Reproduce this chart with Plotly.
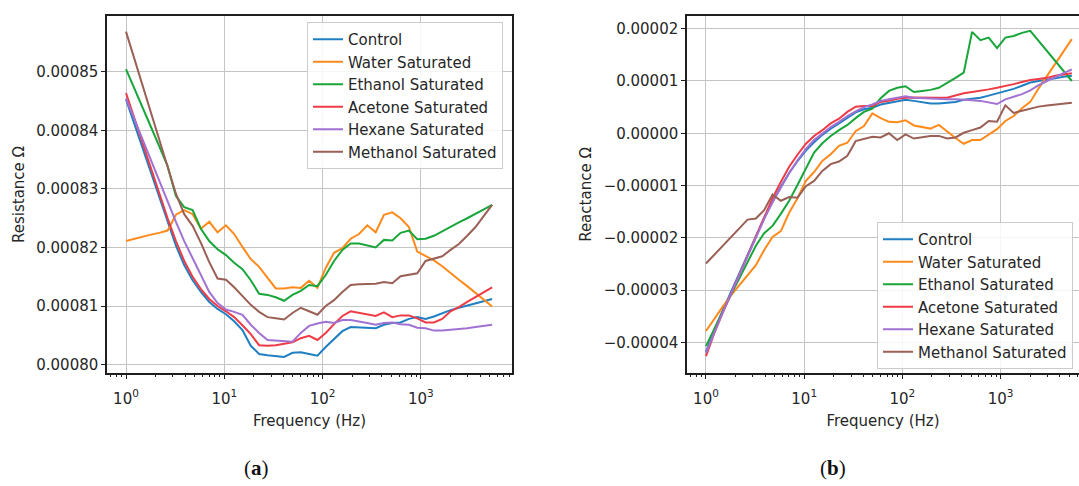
import plotly.graph_objects as go

# ---------------- data ----------------
FREQ_HZ = [1.0, 1.215, 1.476, 1.795, 2.18, 2.65, 3.22, 3.91, 4.76,
           5.78, 7.03, 8.54, 10.4, 12.6, 15.3, 18.6, 22.6, 27.5,
           33.4, 40.6, 49.4, 60.0, 72.9, 88.6, 107.6, 130.8, 159,
           193, 235, 285, 347, 421, 512, 622, 756, 919,
           1117, 1357, 1650, 2004, 2436, 2960, 3597, 4372, 5313]

SERIES = ["Control", "Water Saturated", "Ethanol Saturated",
          "Acetone Saturated", "Hexane Saturated", "Methanol Saturated"]

# Resistance values in units of 1e-5 ohm
R_CONTROL = [84.53, 84.11, 83.70, 83.27, 82.85, 82.42, 82.03, 81.70, 81.44,
             81.24, 81.07, 80.95, 80.86, 80.74, 80.59, 80.32, 80.18, 80.16,
             80.15, 80.13, 80.20, 80.21, 80.18, 80.15, 80.30, 80.44, 80.57,
             80.64, 80.63, 80.62, 80.62, 80.68, 80.71, 80.72, 80.78, 80.81,
             80.78, 80.82, 80.88, 80.93, 80.97, 81.01, 81.04, 81.08, 81.12]
R_WATER = [82.11, 82.15, 82.18, 82.22, 82.25, 82.29, 82.56, 82.64, 82.57,
           82.32, 82.44, 82.26, 82.38, 82.23, 82.01, 81.80, 81.67, 81.48,
           81.30, 81.30, 81.32, 81.31, 81.43, 81.31, 81.65, 81.91, 81.99,
           82.15, 82.23, 82.38, 82.26, 82.56, 82.60, 82.50, 82.35, 81.93,
           81.85, 81.78, 81.68, 81.56, 81.45, 81.34, 81.22, 81.10, 80.99]
R_ETHANOL = [85.05, 84.73, 84.39, 84.06, 83.73, 83.39, 82.88, 82.69, 82.64,
             82.32, 82.11, 81.97, 81.87, 81.74, 81.63, 81.44, 81.21, 81.19,
             81.15, 81.09, 81.19, 81.26, 81.36, 81.34, 81.53, 81.77, 81.96,
             82.07, 82.07, 82.03, 82.00, 82.13, 82.12, 82.25, 82.29, 82.14,
             82.15, 82.20, 82.28, 82.36, 82.43, 82.50, 82.57, 82.65, 82.73]
R_ACETONE = [84.64, 84.21, 83.78, 83.36, 82.93, 82.50, 82.11, 81.77, 81.50,
             81.29, 81.12, 81.00, 80.91, 80.81, 80.67, 80.52, 80.33, 80.32,
             80.33, 80.35, 80.38, 80.45, 80.49, 80.42, 80.54, 80.69, 80.83,
             80.91, 80.88, 80.85, 80.83, 80.89, 80.81, 80.84, 80.84, 80.79,
             80.72, 80.72, 80.78, 80.91, 80.98, 81.07, 81.15, 81.24, 81.32]
R_HEXANE = [84.55, 84.20, 83.84, 83.49, 83.12, 82.78, 82.44, 82.11, 81.82,
            81.53, 81.24, 81.05, 80.94, 80.90, 80.85, 80.68, 80.54, 80.42,
            80.41, 80.40, 80.39, 80.54, 80.66, 80.70, 80.73, 80.71, 80.76,
            80.76, 80.74, 80.71, 80.68, 80.71, 80.72, 80.69, 80.68, 80.63,
            80.62, 80.58, 80.58, 80.59, 80.61, 80.62, 80.64, 80.66, 80.68]
R_METHANOL = [85.69, 85.23, 84.77, 84.30, 83.84, 83.38, 82.92, 82.57, 82.37,
              82.08, 81.75, 81.47, 81.45, 81.32, 81.17, 81.02, 80.90, 80.81,
              80.79, 80.77, 80.88, 80.97, 80.91, 80.85, 81.00, 81.10, 81.24,
              81.36, 81.37, 81.37, 81.38, 81.41, 81.39, 81.51, 81.53, 81.56,
              81.77, 81.81, 81.85, 81.96, 82.06, 82.20, 82.35, 82.54, 82.73]

# Reactance values in units of 1e-5 ohm
X_CONTROL = [-4.18, -3.76, -3.39, -3.03, -2.67, -2.31, -1.96, -1.62, -1.31,
             -1.02, -0.76, -0.53, -0.33, -0.17, -0.03, 0.09, 0.19, 0.30,
             0.40, 0.46, 0.49, 0.55, 0.58, 0.62, 0.64, 0.62, 0.60,
             0.57, 0.57, 0.585, 0.60, 0.64, 0.66, 0.68, 0.72, 0.76,
             0.80, 0.85, 0.91, 0.97, 1.00, 1.02, 1.05, 1.08, 1.10]
X_WATER = [-3.78, -3.54, -3.32, -3.10, -2.90, -2.71, -2.52, -2.23, -1.98,
           -1.87, -1.52, -1.24, -0.91, -0.74, -0.53, -0.40, -0.24, -0.18,
           0.04, 0.14, 0.38, 0.29, 0.22, 0.21, 0.25, 0.15, 0.12,
           0.09, 0.16, 0.03, -0.09, -0.20, -0.13, -0.13, -0.03, 0.08,
           0.235, 0.33, 0.48, 0.60, 0.86, 1.10, 1.32, 1.56, 1.80]
X_ETHANOL = [-4.07, -3.73, -3.41, -3.09, -2.77, -2.46, -2.15, -1.91, -1.77,
             -1.54, -1.29, -0.99, -0.68, -0.37, -0.19, -0.05, 0.06, 0.16,
             0.29, 0.41, 0.47, 0.67, 0.81, 0.87, 0.90, 0.79, 0.81,
             0.83, 0.87, 0.96, 1.06, 1.16, 1.94, 1.78, 1.83, 1.63,
             1.83, 1.86, 1.92, 1.96, 1.77, 1.57, 1.38, 1.19, 1.00]
X_ACETONE = [-4.26, -3.82, -3.44, -3.07, -2.70, -2.33, -1.96, -1.58, -1.24,
             -0.93, -0.64, -0.41, -0.20, -0.05, 0.06, 0.19, 0.28, 0.41,
             0.51, 0.52, 0.52, 0.60, 0.62, 0.66, 0.68, 0.685, 0.68,
             0.68, 0.68, 0.68, 0.73, 0.765, 0.79, 0.81, 0.84, 0.87,
             0.90, 0.94, 0.98, 1.02, 1.04, 1.06, 1.10, 1.12, 1.15]
X_HEXANE = [-4.20, -3.80, -3.43, -3.07, -2.71, -2.35, -1.99, -1.64, -1.32,
            -1.03, -0.76, -0.52, -0.30, -0.13, 0.00, 0.12, 0.22, 0.33,
            0.42, 0.50, 0.55, 0.62, 0.65, 0.68, 0.71, 0.68, 0.67,
            0.66, 0.65, 0.65, 0.65, 0.645, 0.63, 0.62, 0.59, 0.56,
            0.65, 0.70, 0.75, 0.82, 0.92, 1.00, 1.08, 1.15, 1.22]
X_METHANOL = [-2.49, -2.32, -2.15, -1.98, -1.82, -1.65, -1.63, -1.47, -1.17,
              -1.29, -1.22, -1.23, -1.01, -0.91, -0.72, -0.59, -0.54, -0.43,
              -0.15, -0.11, -0.065, -0.08, 0.00, -0.13, -0.02, -0.10, -0.07,
              -0.05, -0.05, -0.10, -0.08, 0.01, 0.06, 0.11, 0.235, 0.22,
              0.535, 0.39, 0.43, 0.47, 0.51, 0.53, 0.55, 0.57, 0.585]

RESISTANCE = [R_CONTROL, R_WATER, R_ETHANOL, R_ACETONE, R_HEXANE, R_METHANOL]
REACTANCE = [X_CONTROL, X_WATER, X_ETHANOL, X_ACETONE, X_HEXANE, X_METHANOL]

R_TICKS = [0.00080, 0.00081, 0.00082, 0.00083, 0.00084, 0.00085]
X_TICKS = [-0.00004, -0.00003, -0.00002, -0.00001, 0.0, 0.00001, 0.00002]
DECADES = [1, 10, 100, 1000]
DECADE_LABELS = ["10<sup>0</sup>", "10<sup>1</sup>", "10<sup>2</sup>", "10<sup>3</sup>"]

COLORS = ["#1f7fc2", "#ff8a1c", "#18a63a", "#ef3b46", "#a272d2", "#9a5f55"]
SCALE = 1e-5

# ---------------- figure ----------------
fig = go.Figure()
for name, color, vals in zip(SERIES, COLORS, RESISTANCE):
    fig.add_trace(go.Scatter(x=FREQ_HZ, y=[v * SCALE for v in vals], mode="lines",
                             name=name, line=dict(color=color, width=2),
                             xaxis="x", yaxis="y", legend="legend"))
for name, color, vals in zip(SERIES, COLORS, REACTANCE):
    fig.add_trace(go.Scatter(x=FREQ_HZ, y=[v * SCALE for v in vals], mode="lines",
                             name=name, line=dict(color=color, width=2),
                             xaxis="x2", yaxis="y2", legend="legend2"))

minor_vals = [m * d for d in [0.1, 1, 10, 100, 1000] for m in range(2, 10)]

FONT = "DejaVu Sans"
TXT = "#262626"
GRID = "#c4c4c4"
SPINE = "#1e1e1e"

common_x = dict(type="log", tickmode="array", tickvals=DECADES, ticktext=DECADE_LABELS,
                ticks="outside", ticklen=4, tickwidth=1, tickcolor=SPINE,
                ticklabelstandoff=7,
                showgrid=True, gridcolor=GRID, gridwidth=1.2,
                showline=True, linecolor=SPINE, linewidth=1.5, mirror=True,
                zeroline=False, tickfont=dict(family=FONT, size=15, color=TXT),
                minor=dict(tickmode="array", tickvals=minor_vals, ticks="outside",
                           ticklen=2, tickwidth=1, tickcolor=SPINE, showgrid=False),
                title=dict(text="Frequency (Hz)", font=dict(family=FONT, size=15, color=TXT),
                           standoff=9))
common_y = dict(tickmode="array", tickformat=".5f", ticks="outside", ticklen=4,
                tickwidth=1, tickcolor=SPINE, showgrid=True, gridcolor=GRID, gridwidth=1.2,
                showline=True, linecolor=SPINE, linewidth=1.5, zeroline=False,
                tickfont=dict(family=FONT, size=15, color=TXT))

fig.update_layout(
    width=1079, height=486,
    margin=dict(l=0, r=0, t=0, b=0, autoexpand=False),
    paper_bgcolor="white", plot_bgcolor="white",
    font=dict(family=FONT, size=15, color=TXT),
    xaxis=dict(common_x, domain=[0.0992, 0.4745], range=[-0.193, 3.927], anchor="y"),
    yaxis=dict(common_y, domain=[0.2325, 0.9671], range=[0.00079855, 0.00085957],
               tickvals=R_TICKS, anchor="x", mirror=True,
               title=dict(text="Resistance Ω", font=dict(family=FONT, size=15, color=TXT),
                          standoff=8)),
    xaxis2=dict(common_x, domain=[0.6367, 1.0], range=[-0.1935, 3.798], anchor="y2"),
    yaxis2=dict(common_y, domain=[0.2325, 0.9671], range=[-0.00004583, 0.00002243],
                tickvals=X_TICKS, anchor="x2", mirror=False,
                title=dict(text="Reactance Ω", font=dict(family=FONT, size=15, color=TXT),
                           standoff=8)),
    legend=dict(x=503 / 1079, xanchor="right", y=1 - 22 / 486, yanchor="top",
                bgcolor="rgba(255,255,255,0.85)", bordercolor="#cccccc", borderwidth=1,
                font=dict(family=FONT, size=15, color=TXT), tracegroupgap=0, itemwidth=30),
    legend2=dict(x=877 / 1079, xanchor="left", y=1 - 222 / 486, yanchor="top",
                 bgcolor="rgba(255,255,255,0.85)", bordercolor="#cccccc", borderwidth=1,
                 font=dict(family=FONT, size=15, color=TXT), tracegroupgap=0, itemwidth=30),
    annotations=[
        dict(text="(<b>a</b>)", x=256 / 1079, y=1 - 468 / 486, xref="paper", yref="paper",
             showarrow=False, xanchor="center", yanchor="middle",
             font=dict(family="Liberation Serif", size=21, color="#111111")),
        dict(text="(<b>b</b>)", x=833 / 1079, y=1 - 468 / 486, xref="paper", yref="paper",
             showarrow=False, xanchor="center", yanchor="middle",
             font=dict(family="Liberation Serif", size=21, color="#111111")),
    ],
)

fig.write_html("out.html")
